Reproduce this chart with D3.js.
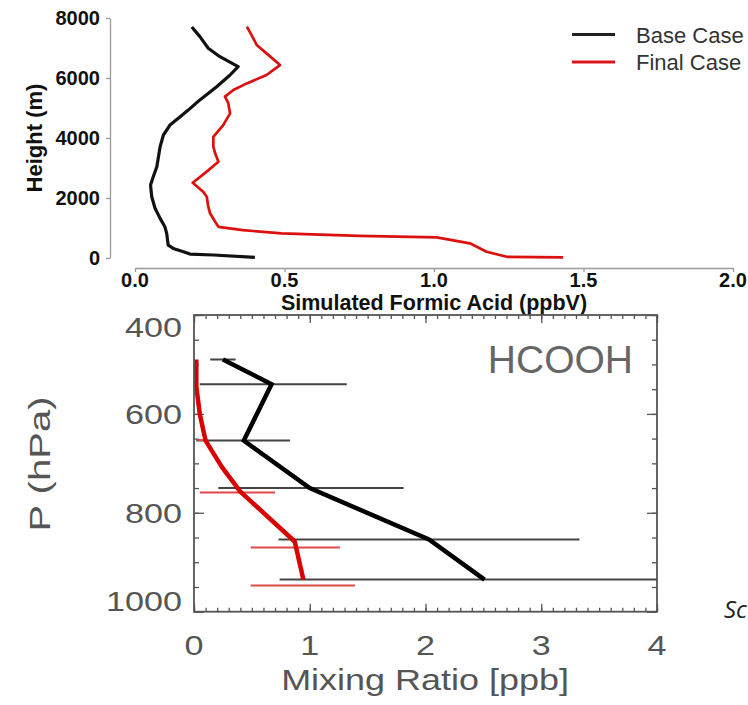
<!DOCTYPE html>
<html>
<head>
<meta charset="utf-8">
<script src="https://cdn.jsdelivr.net/npm/d3@7"></script>
<style>
    body { margin: 0; background: #fff; }
    svg { display: block; }
</style>
</head>
<body>
<div id="chart"></div>
<script>

// ---- top panel: simulated formic acid profiles ----
var baseHeight = [7700, 7380, 6990, 6710, 6380, 6100, 5710, 5270, 4930, 4710, 4430, 4100, 3710, 3040,
    2710, 2430, 2040, 1660, 1320, 1040, 820, 430, 320, 210, 130, 100, 20];
var baseValue = [0.19, 0.217, 0.245, 0.284, 0.345, 0.318, 0.273, 0.217, 0.178, 0.151, 0.117, 0.095, 0.084, 0.073,
    0.061, 0.052, 0.056, 0.067, 0.084, 0.10, 0.106, 0.111, 0.128, 0.162, 0.184, 0.262, 0.401];

var finalHeight = [7710, 7430, 7100, 6820, 6430, 6100, 5820, 5600, 5380, 5160, 4820, 4430, 4040, 3710, 3490, 3210,
    2880, 2510, 2210, 2040, 1710, 1490, 1210, 1040, 930, 820, 740, 690, 490, 210, 40, 20];
var finalValue = [0.374, 0.39, 0.407, 0.44, 0.485, 0.44, 0.374, 0.329, 0.301, 0.312, 0.318, 0.295, 0.262, 0.262, 0.268, 0.279,
    0.24, 0.193, 0.228, 0.24, 0.245, 0.251, 0.268, 0.279, 0.36, 0.49, 0.75, 1.009, 1.12, 1.176, 1.243, 1.432];

var topXTicks = [0, 0.5, 1.0, 1.5, 2.0];
var topYTicks = [0, 2000, 4000, 6000, 8000];
var legendLabels = ["Base Case", "Final Case"];

// ---- bottom panel: HCOOH mixing ratio ----
var obsPressure = [490, 540, 654, 750, 854, 935];
var obsMixing = [0.25, 0.67, 0.43, 1.00, 2.03, 2.51];
var obsLow = [0.14, 0.05, 0.02, 0.21, 0.73, 0.74];
var obsHigh = [0.36, 1.32, 0.83, 1.81, 3.33, 4.4];

var modPressure = [490, 545, 600, 654, 707, 757, 858, 935];
var modMixing = [0.02, 0.02, 0.05, 0.10, 0.24, 0.40, 0.87, 0.945];
var modBarPressure = [653, 759, 870, 947];
var modLow = [0.03, 0.05, 0.49, 0.49];
var modHigh = [0.12, 0.70, 1.26, 1.39];

var botXTicks = [0, 1, 2, 3, 4];
var botYTicks = [400, 600, 800, 1000];

var W = 748, H = 705;

var svg = d3.select("#chart").append("svg")
    .attr("width", W)
    .attr("height", H)
    .style("background", "#fff");

/**
 * text with optional horizontal stretch / rotation
 */
var addText = function(g, str, x, y, o){
    var tf = "translate(" + x + "," + y + ")";
    if (o.rotate) tf += " rotate(" + o.rotate + ")";
    if (o.sx) tf += " scale(" + o.sx + ",1)";
    return g.append("text")
        .attr("transform", tf)
        .attr("text-anchor", o.anchor || "start")
        .style("font-family", o.family || "'Liberation Sans', Arial, Helvetica, sans-serif")
        .style("font-size", o.size + "px")
        .style("font-weight", o.weight || "normal")
        .style("font-style", o.italic ? "italic" : "normal")
        .style("fill", o.fill || "#000")
        .text(str);
};

//================ top panel ================
var xTop = d3.scaleLinear().domain([0, 2]).range([135, 733]);
var yTop = d3.scaleLinear().domain([0, 8000]).range([258, 18]);

var topG = svg.append("g");

// y axis
topG.append("g")
    .attr("transform", "translate(110,0)")
    .call(d3.axisLeft(yTop).tickValues(topYTicks).tickSize(4).tickSizeOuter(0).tickFormat(""))
    .call(function(g){ g.selectAll("path, line").attr("stroke", "#999").attr("stroke-width", 1.3); });

// x axis
topG.append("g")
    .attr("transform", "translate(0,268)")
    .call(d3.axisBottom(xTop).tickValues(topXTicks).tickSize(4).tickSizeOuter(0).tickFormat(""))
    .call(function(g){ g.selectAll("path, line").attr("stroke", "#999").attr("stroke-width", 1.3); });

topYTicks.forEach(function(t){
    addText(topG, String(t), 100, yTop(t) + 7, {size: 20, weight: "bold", anchor: "end", fill: "#111"});
});
topXTicks.forEach(function(t){
    addText(topG, t.toFixed(1), xTop(t), 287, {size: 20, weight: "bold", anchor: "middle", fill: "#111"});
});

addText(topG, "Simulated Formic Acid (ppbV)", 434, 310, {size: 21.5, weight: "bold", anchor: "middle", fill: "#111"});
addText(topG, "Height (m)", 42, 138, {size: 22, weight: "bold", anchor: "middle", rotate: -90, fill: "#111"});

var topLine = d3.line()
    .x(function(d){ return xTop(d[0]); })
    .y(function(d){ return yTop(d[1]); });

topG.append("path")
    .datum(d3.zip(baseValue, baseHeight))
    .attr("d", topLine)
    .attr("fill", "none")
    .attr("stroke", "#111")
    .attr("stroke-width", 3.2)
    .attr("stroke-linejoin", "round");

topG.append("path")
    .datum(d3.zip(finalValue, finalHeight))
    .attr("d", topLine)
    .attr("fill", "none")
    .attr("stroke", "#dd1010")
    .attr("stroke-width", 2.7)
    .attr("stroke-linejoin", "round");

// legend
var legendColors = ["#222", "#d81818"];
legendLabels.forEach(function(lbl, i){
    var ly = 34.5 + i * 27.5;
    topG.append("line")
        .attr("x1", 572).attr("x2", 615)
        .attr("y1", ly).attr("y2", ly)
        .attr("stroke", legendColors[i])
        .attr("stroke-width", 3);
    addText(topG, lbl, 636, ly + 8, {size: 22, fill: "#333"});
});

//================ bottom panel ================
var xBot = d3.scaleLinear().domain([0, 4]).range([194, 657]);
var yBot = d3.scaleLinear().domain([400, 1000]).range([315, 611.7]);

var botG = svg.append("g");

botG.append("clipPath").attr("id", "botClip")
    .append("rect")
    .attr("x", xBot(0)).attr("y", yBot(400))
    .attr("width", xBot(4) - xBot(0))
    .attr("height", yBot(1000) - yBot(400));

var frameColor = "#555";
var styleTicks = function(g){
    g.select(".domain").remove();
    g.selectAll("line").attr("stroke", frameColor).attr("stroke-width", 1.3);
};

var xMinor = d3.range(0, 4.001, 0.1);
var yMinor = d3.range(400, 1000.1, 50);

// inward ticks on all four sides
botG.append("g").attr("transform", "translate(0," + yBot(1000) + ")")
    .call(d3.axisBottom(xBot).tickValues(xMinor).tickSize(-4).tickFormat("")).call(styleTicks);
botG.append("g").attr("transform", "translate(0," + yBot(1000) + ")")
    .call(d3.axisBottom(xBot).tickValues(botXTicks).tickSize(-8).tickFormat("")).call(styleTicks);
botG.append("g").attr("transform", "translate(0," + yBot(400) + ")")
    .call(d3.axisTop(xBot).tickValues(xMinor).tickSize(-4).tickFormat("")).call(styleTicks);
botG.append("g").attr("transform", "translate(0," + yBot(400) + ")")
    .call(d3.axisTop(xBot).tickValues(botXTicks).tickSize(-8).tickFormat("")).call(styleTicks);
botG.append("g").attr("transform", "translate(" + xBot(0) + ",0)")
    .call(d3.axisLeft(yBot).tickValues(yMinor).tickSize(-5).tickFormat("")).call(styleTicks);
botG.append("g").attr("transform", "translate(" + xBot(0) + ",0)")
    .call(d3.axisLeft(yBot).tickValues(botYTicks).tickSize(-10).tickFormat("")).call(styleTicks);
botG.append("g").attr("transform", "translate(" + xBot(4) + ",0)")
    .call(d3.axisRight(yBot).tickValues(yMinor).tickSize(-5).tickFormat("")).call(styleTicks);
botG.append("g").attr("transform", "translate(" + xBot(4) + ",0)")
    .call(d3.axisRight(yBot).tickValues(botYTicks).tickSize(-10).tickFormat("")).call(styleTicks);

var plotG = botG.append("g").attr("clip-path", "url(#botClip)");

// observed error bars
plotG.selectAll("line.obsBar")
    .data(obsPressure).enter().append("line")
    .attr("class", "obsBar")
    .attr("x1", function(d, i){ return xBot(obsLow[i]); })
    .attr("x2", function(d, i){ return xBot(obsHigh[i]); })
    .attr("y1", function(d){ return yBot(d); })
    .attr("y2", function(d){ return yBot(d); })
    .attr("stroke", "#444")
    .attr("stroke-width", 2);

// model error bars
plotG.selectAll("line.modBar")
    .data(modBarPressure).enter().append("line")
    .attr("class", "modBar")
    .attr("x1", function(d, i){ return xBot(modLow[i]); })
    .attr("x2", function(d, i){ return xBot(modHigh[i]); })
    .attr("y1", function(d){ return yBot(d); })
    .attr("y2", function(d){ return yBot(d); })
    .attr("stroke", "#e04848")
    .attr("stroke-width", 2);

var botLine = d3.line()
    .x(function(d){ return xBot(d[0]); })
    .y(function(d){ return yBot(d[1]); });

plotG.append("path")
    .datum(d3.zip(obsMixing, obsPressure))
    .attr("d", botLine)
    .attr("fill", "none")
    .attr("stroke", "#000")
    .attr("stroke-width", 4.5)
    .attr("stroke-linejoin", "miter");

plotG.append("path")
    .datum(d3.zip(modMixing, modPressure))
    .attr("d", botLine)
    .attr("fill", "none")
    .attr("stroke", "#d80000")
    .attr("stroke-width", 4.5)
    .attr("stroke-linejoin", "round");

// frame
botG.append("rect")
    .attr("x", xBot(0)).attr("y", yBot(400))
    .attr("width", xBot(4) - xBot(0))
    .attr("height", yBot(1000) - yBot(400))
    .attr("fill", "none")
    .attr("stroke", frameColor)
    .attr("stroke-width", 1.8);

// labels (end labels nudged inward like the original)
var yLabelShift = {400: 12, 1000: -11};
botYTicks.forEach(function(t){
    addText(botG, String(t), 182, yBot(t) + (yLabelShift[t] || 0) + 10, {size: 28, anchor: "end", sx: 1.22, fill: "#555"});
});
botXTicks.forEach(function(t){
    addText(botG, String(t), xBot(t), 655, {size: 28, anchor: "middle", sx: 1.22, fill: "#555"});
});

addText(botG, "Mixing Ratio [ppb]", 425, 690, {size: 29, anchor: "middle", sx: 1.24, fill: "#555"});
addText(botG, "P (hPa)", 50, 464, {size: 29, anchor: "middle", rotate: -90, sx: 1.38, fill: "#555"});
addText(botG, "HCOOH", 633, 373, {size: 39, anchor: "end", fill: "#666"});

addText(svg, "Sc", 724, 618, {size: 24, italic: true, fill: "#222", family: "'Open Sans', 'Liberation Sans', sans-serif"});

</script>
</body>
</html>
